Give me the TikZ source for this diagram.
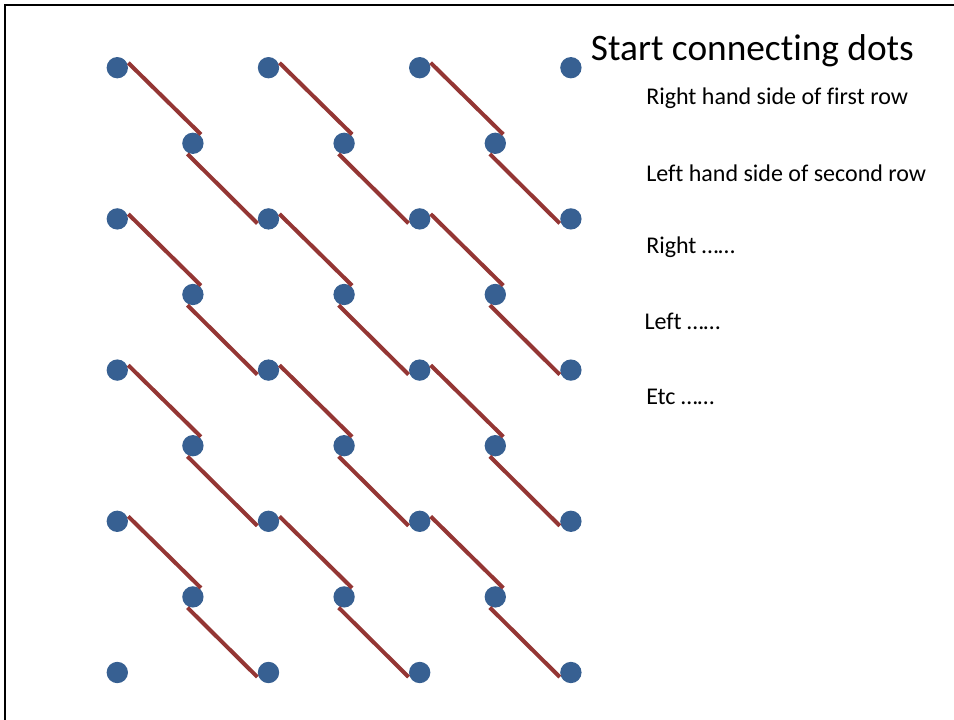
\documentclass[tikz,border=0pt]{standalone}
\usepackage{fontspec}
\setmainfont{Carlito}[Ligatures=CommonOff]
\usetikzlibrary{positioning}

\definecolor{dotblue}{HTML}{376092}
\definecolor{linkred}{HTML}{943634}

\tikzset{
  dot/.style={circle,fill=dotblue,minimum size=16pt,inner sep=0pt,outer sep=1pt},
  link/.style={draw=linkred,line width=3pt},
  say/.style={anchor=base west,inner sep=0pt,font=\fontsize{18}{21}\selectfont}
}

\begin{document}
\begin{tikzpicture}[x=0.75pt,y=-0.75pt]

 \useasboundingbox (0,0) rectangle (954,720);

 % frame
 \draw[line width=1.5pt] (5,720) -- (5,5) -- (954,5);

 % dots
 \foreach \r in {0,2,4,6,8}
  \foreach \c in {0,2,4,6}
   \node[dot] (d\r\c) at ({117.3+75.6*\c},{67.7+75.6*\r}) {};
 \foreach \r in {1,3,5,7}
  \foreach \c in {1,3,5}
   \node[dot] (d\r\c) at ({117.3+75.6*\c},{67.7+75.6*\r}) {};

 % links
 \foreach \r in {0,2,4,6}
  \foreach \c in {0,2,4} {
   \pgfmathtruncatemacro\rr{\r+1}
   \pgfmathtruncatemacro\cc{\c+1}
   \draw[link] (d\r\c.24) -- (d\rr\cc.48);
  }
 \foreach \r in {1,3,5,7}
  \foreach \c in {1,3,5} {
   \pgfmathtruncatemacro\rr{\r+1}
   \pgfmathtruncatemacro\cc{\c+1}
   \draw[link] (d\r\c.243) -- (d\rr\cc.202);
  }

 % texts
 \node[anchor=base west,inner sep=0pt,font=\fontsize{28}{32}\selectfont] (title) at (590.7,60.7) {Start connecting dots};
 \node[say] (t1) at (646,105) {Right hand side of first row};
 \node[say] (t2) at (646,181.7) {Left hand side of second row};
 \node[say] (t3) at (646,253.3) {Right ……};
 \node[say] (t4) at (644.3,330) {Left ……};
 \node[say] (t5) at (646,405) {Etc ……};

\end{tikzpicture}
\end{document}
